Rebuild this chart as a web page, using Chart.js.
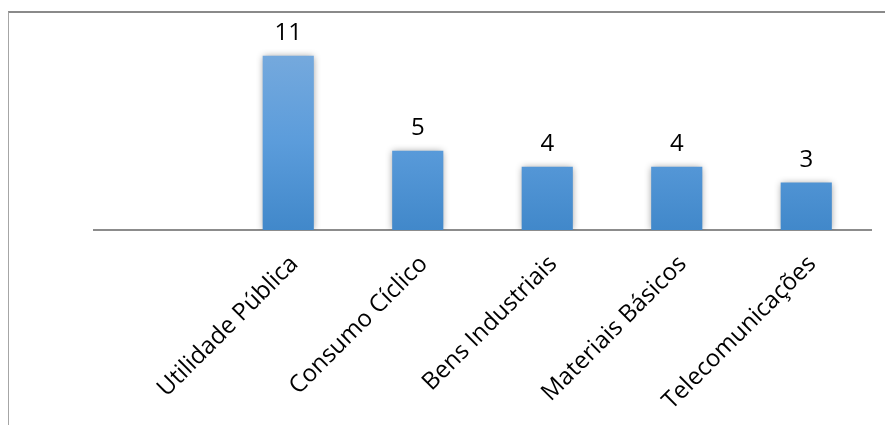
<!DOCTYPE html>
<html>
<head>
<meta charset="utf-8">
<script src="https://cdn.jsdelivr.net/npm/chart.js@4"></script>
<style>
  html, body { margin: 0; padding: 0; background: #fff; }
  body { width: 885px; height: 425px; position: relative; overflow: hidden; }
  #frame { position: absolute; left: 8px; top: 11px; width: 900px; height: 430px;
           border-top: 2px solid #8a8a8a; border-left: 1px solid #a6a6a6; }
  canvas { position: absolute; left: 0; top: 0; }
</style>
</head>
<body>
<div id="frame"></div>
<canvas id="c" width="885" height="425"></canvas>
<script>
const categories = ['', 'Utilidade Pública', 'Consumo Cíclico', 'Bens Industriais', 'Materiais Básicos', 'Telecomunicações'];
const counts = [null, 11, 5, 4, 4, 3];

const barShadow = {
  id: 'barShadow',
  beforeDatasetsDraw(chart) {
    const ctx = chart.ctx;
    ctx.save();
    ctx.shadowColor = 'rgba(0,0,0,0.4)';
    ctx.shadowBlur = 7;
    ctx.shadowOffsetX = 0;
    ctx.shadowOffsetY = 0;
  },
  afterDatasetsDraw(chart) {
    chart.ctx.restore();
    const ctx = chart.ctx;
    const meta = chart.getDatasetMeta(0);
    const data = chart.data.datasets[0].data;
    ctx.save();
    ctx.fillStyle = '#000';
    ctx.font = '24px "Open Sans"';
    ctx.textAlign = 'center';
    ctx.textBaseline = 'alphabetic';
    meta.data.forEach((bar, i) => {
      if (data[i] == null) return;
      ctx.fillText(String(data[i]), bar.x, bar.y - 16);
    });
    ctx.restore();
  }
};

new Chart(document.getElementById('c'), {
  type: 'bar',
  data: {
    labels: categories,
    datasets: [{
      data: counts,
      backgroundColor(context) {
        const area = context.chart.chartArea;
        if (!area) return '#5b9bd5';
        const g = context.chart.ctx.createLinearGradient(0, area.top + 15, 0, area.bottom);
        g.addColorStop(0, '#75a9dd');
        g.addColorStop(0.5, '#5b9cdb');
        g.addColorStop(1, '#4188ca');
        return g;
      },
      borderWidth: 0,
      categoryPercentage: 1,
      barPercentage: 0.395
    }]
  },
  options: {
    responsive: false,
    animation: false,
    layout: { padding: { left: 94, right: 14, top: 40, bottom: 0 } },
    plugins: { legend: { display: false }, tooltip: { enabled: false } },
    scales: {
      x: {
        grid: { display: false, drawTicks: false },
        border: { display: true, color: '#8c8c8c', width: 2 },
        ticks: {
          autoSkip: false,
          minRotation: 45,
          maxRotation: 45,
          padding: 20,
          labelOffset: 6,
          color: '#000',
          font: { family: '"Open Sans"', size: 24 }
        },
        afterFit(scale) { scale.height = 195; }
      },
      y: {
        display: false,
        min: 0,
        max: 12
      }
    }
  },
  plugins: [barShadow]
});
</script>
</body>
</html>
